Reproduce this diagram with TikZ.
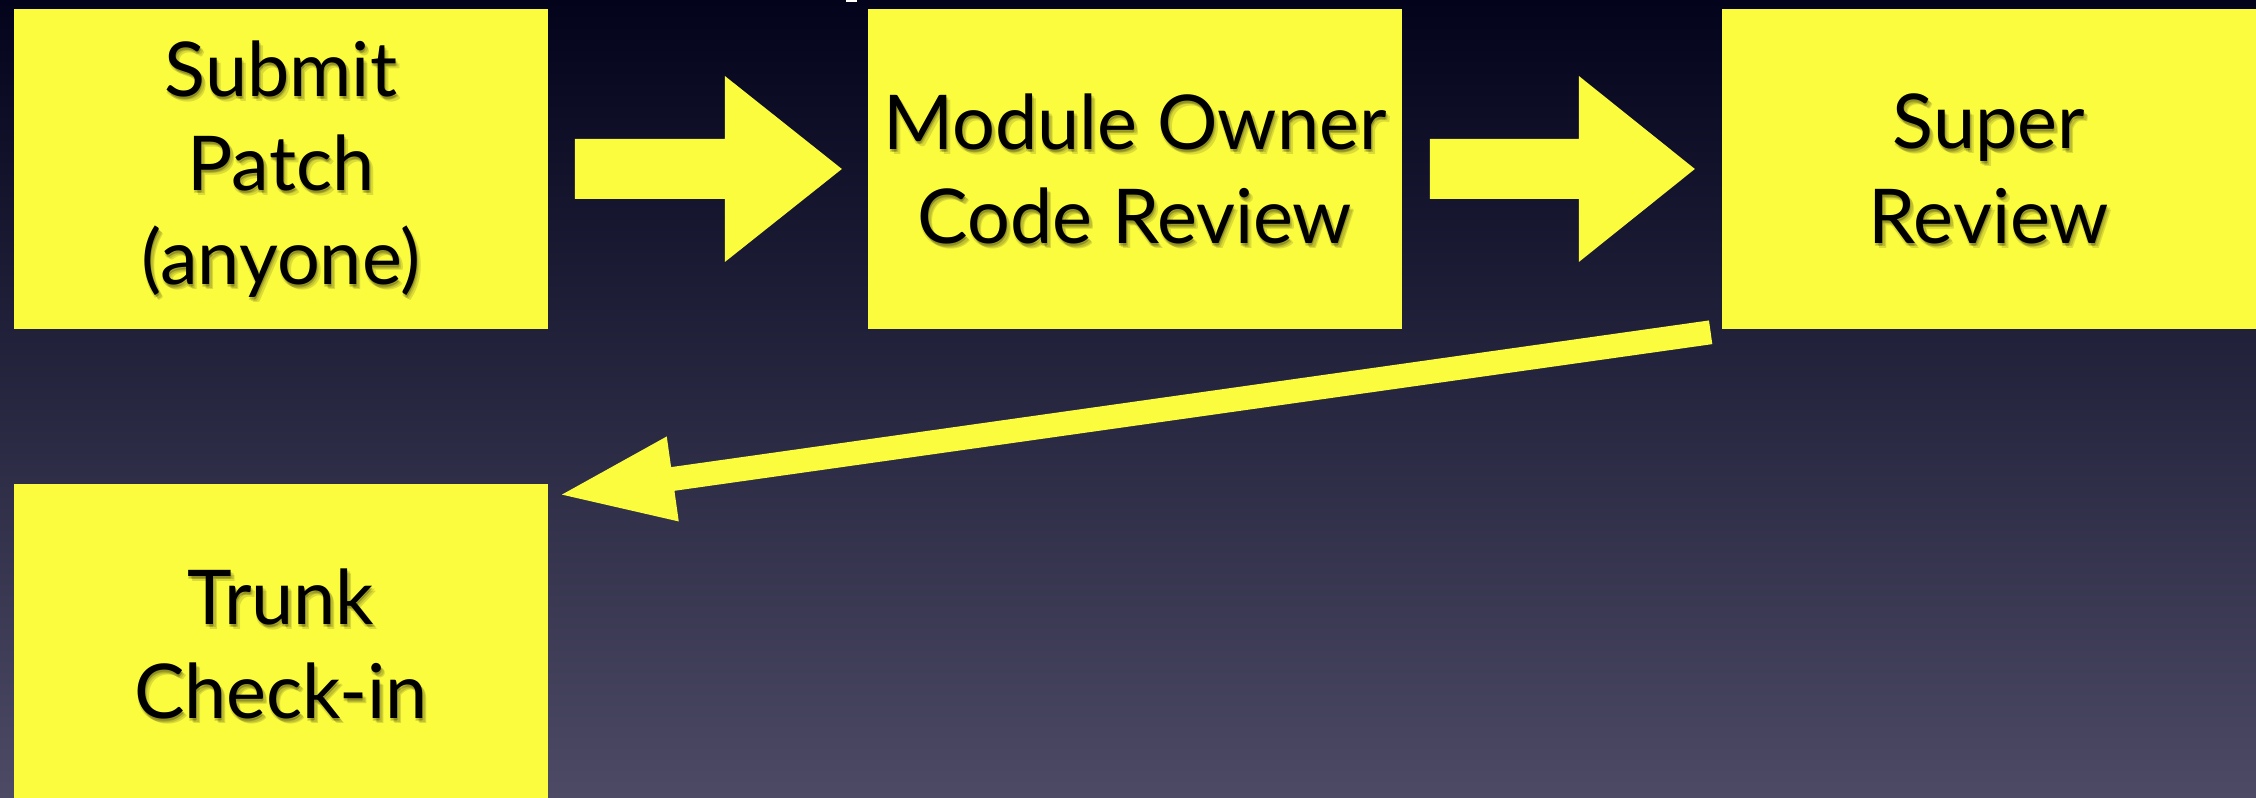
\documentclass[tikz,border=0pt]{standalone}
\usepackage{fontspec}
\setmainfont{Lato}
\usetikzlibrary{calc,arrows.meta}
\definecolor{bgtop}{RGB}{3,3,28}
\definecolor{bgmid}{RGB}{38,38,66}
\definecolor{bgbot}{RGB}{76,74,100}
\definecolor{hl}{RGB}{252,252,62}
\tikzset{
  stepbox/.style={fill=hl, draw=none, inner sep=0pt, minimum width=5.34cm, minimum height=3.2cm,
    align=center, font=\fontsize{21.5pt}{26.8pt}\selectfont, text=black},
  shadowtext/.style={inner sep=0pt, minimum width=5.34cm, minimum height=3.2cm,
    align=center, font=\fontsize{21.5pt}{26.8pt}\selectfont, text=black, text opacity=0.13},
  blockarrow/.style={fill=hl, draw=none},
  backarrow/.style={draw=hl, line width=6.8pt, line cap=butt,
    -{Triangle[length=33pt, width=22.2pt]}},
}
\begin{document}
\begin{tikzpicture}[x=0.01cm, y=-0.01cm]
  \useasboundingbox (0,0) rectangle (2256,798);
  \shade[top color=bgtop, middle color=bgmid, bottom color=bgbot] (0,0) rectangle (2256,798);
  \fill[white] (846,0) rectangle (857,2.5);

  % boxes
  \node[stepbox] (sub) at (281,169) {};
  \node[stepbox] (mod) at (1135,169) {};
  \node[stepbox] (sup) at (1989,169) {};
  \node[stepbox] (trk) at (281,644) {};

  % soft text shadows
  \foreach \dx/\dy [count=\i] in {1/2, 2.5/3.5, 4/5, 0/3} {
    \node[shadowtext] (subS\i) at ($(sub)+(\dx,\dy)$) {Submit\\Patch\\(anyone)};
    \node[shadowtext] (modS\i) at ($(mod)+(\dx,\dy)$) {Module Owner\\Code Review};
    \node[shadowtext] (supS\i) at ($(sup)+(\dx,\dy)$) {Super\\Review};
    \node[shadowtext] (trkS\i) at ($(trk)+(\dx,\dy)$) {Trunk\\Check-in};
  }

  % texts
  \node[stepbox, fill=none] (subT) at (sub) {Submit\\Patch\\(anyone)};
  \node[stepbox, fill=none] (modT) at (mod) {Module Owner\\Code Review};
  \node[stepbox, fill=none] (supT) at (sup) {Super\\Review};
  \node[stepbox, fill=none] (trkT) at (trk) {Trunk\\Check-in};

  % block arrows
  \fill[blockarrow] ($(sub.east)+(26,0)$) ++(0,-30) -- ++(150,0) -- ++(0,-63) -- ++(117,93)
     -- ++(-117,93) -- ++(0,-63) -- ++(-150,0) -- cycle;
  \fill[blockarrow] ($(mod.east)+(27,0)$) ++(0,-30) -- ++(149,0) -- ++(0,-63) -- ++(116,93)
     -- ++(-116,93) -- ++(0,-63) -- ++(-149,0) -- cycle;

  % return arrow
  \coordinate (from) at ($(sup.south west)+(-10.5,2.5)$);
  \coordinate (to) at ($(trk.north east)+(9,12)$);
  \draw[backarrow] (from) -- (to);
\end{tikzpicture}
\end{document}
